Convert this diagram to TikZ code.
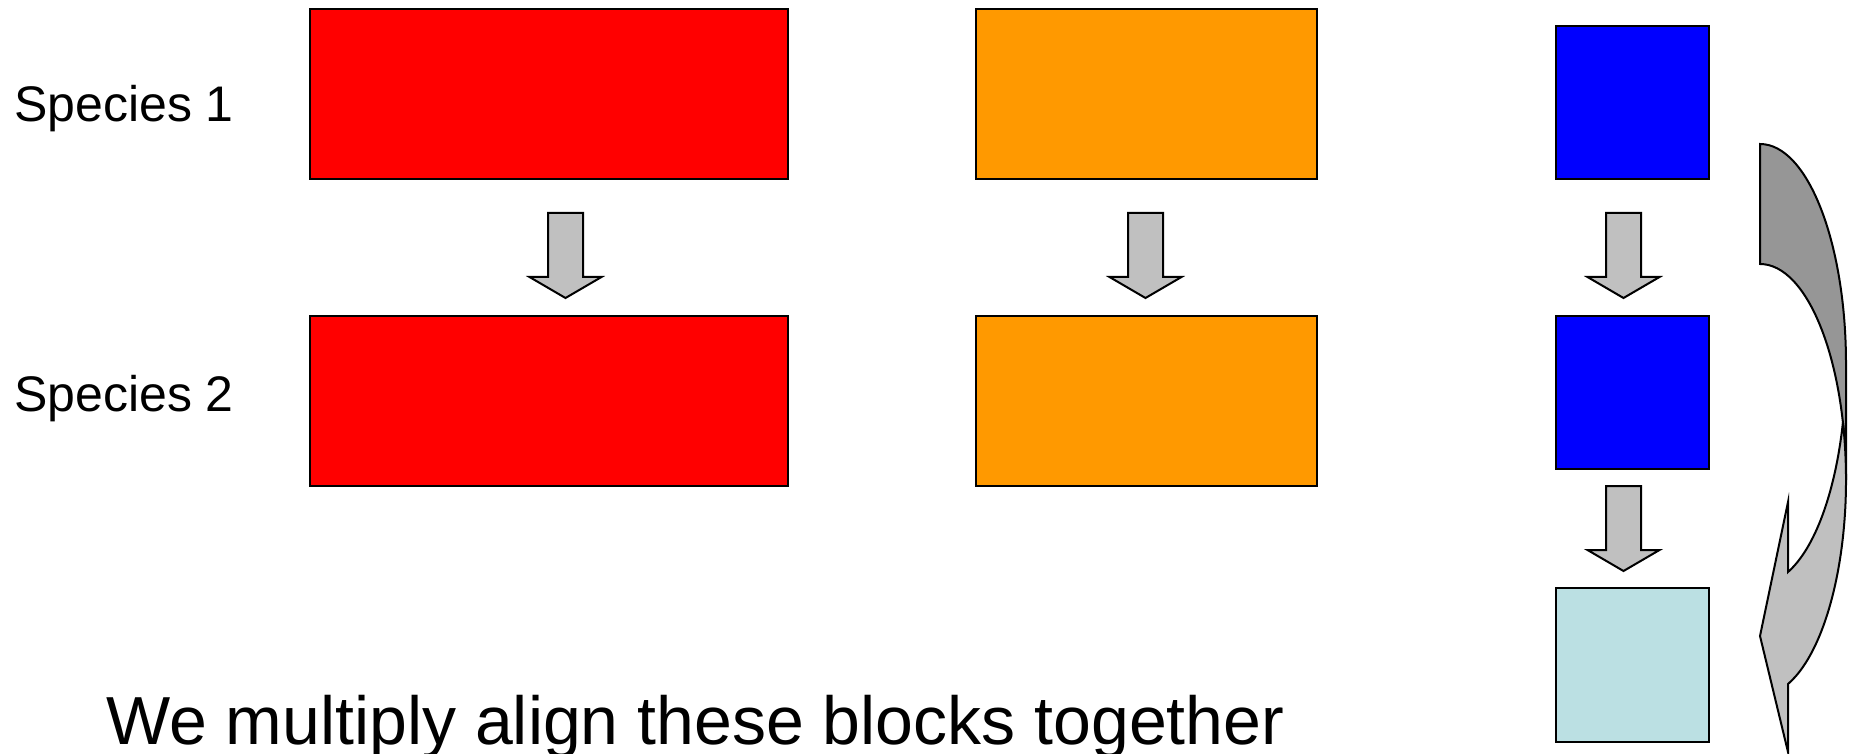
\documentclass[tikz,border=0pt]{standalone}
\usepackage{fontspec}
\setmainfont{Liberation Sans}
\definecolor{boxred}{HTML}{FF0000}
\definecolor{boxorange}{HTML}{FF9900}
\definecolor{boxblue}{HTML}{0000FF}
\definecolor{boxcyan}{HTML}{BBE0E3}
\definecolor{arrowgray}{HTML}{C0C0C0}
\definecolor{arrowdark}{HTML}{969696}
\begin{document}
\begin{tikzpicture}[x=1pt,y=-1pt,
  blockbox/.style={draw=black,line width=2pt,inner sep=0pt,anchor=north west},
  arrowstyle/.style={draw=black,fill=arrowgray,line width=2pt,line join=miter},
  label/.style={inner sep=0pt,anchor=base west,font=\fontsize{50}{60}\selectfont},
  blockarrow/.pic={\path[arrowstyle] (-17.5,0) -- (17.5,0) -- (17.5,64) -- (36,64) -- (0,85) -- (-36,64) -- (-17.5,64) -- cycle;}
]
\useasboundingbox[fill=white] (0,0) rectangle (1864,754);

% boxes
\node[blockbox,fill=boxred,minimum width=478pt,minimum height=170pt] (r1) at (309,8) {};
\node[blockbox,fill=boxred,minimum width=478pt,minimum height=170pt] (r2) at (309,315) {};
\node[blockbox,fill=boxorange,minimum width=341pt,minimum height=170pt] (o1) at (975,8) {};
\node[blockbox,fill=boxorange,minimum width=341pt,minimum height=170pt] (o2) at (975,315) {};
\node[blockbox,fill=boxblue,minimum width=153pt,minimum height=153pt] (b1) at (1555,25) {};
\node[blockbox,fill=boxblue,minimum width=153pt,minimum height=153pt] (b2) at (1555,315) {};
\node[blockbox,fill=boxcyan,minimum width=153pt,minimum height=154pt] (c3) at (1555,587) {};

% labels
\node[label] (s1) at (14,121.7) {Species 1};
\node[label] (s2) at (14,411.7) {Species 2};
\node[inner sep=0pt,anchor=base west,font=\fontsize{68}{80}\selectfont] (cap) at (106,744.5) {We multiply align these blocks together};

% block arrows
\pic at (565.5,213) {blockarrow};
\pic at (1145.5,213) {blockarrow};
\pic at (1623.5,213) {blockarrow};
\pic at (1623.5,486) {blockarrow};

% curved arrow (back part)
\coordinate (E1top) at (1760,144);
\path[draw=black,fill=arrowdark,line width=2pt]
  (E1top) arc[start angle=90,end angle=0,x radius=86pt,y radius=220pt]
  -- (1846,480)
  arc[start angle=0,end angle=90,x radius=86pt,y radius=216pt]
  -- cycle;
% curved arrow (front part)
\coordinate (cross) at (1842.9,422.5);
\path[draw=black,fill=arrowgray,line width=2pt,line join=miter]
  (cross) arc[start angle=-15.43,end angle=-71,x radius=86pt,y radius=220pt]
  -- (1788,502) -- (1760,636) -- (1788,752) -- (1788,684)
  arc[start angle=-71,end angle=15.43,x radius=86pt,y radius=216pt]
  -- cycle;
\end{tikzpicture}
\end{document}
